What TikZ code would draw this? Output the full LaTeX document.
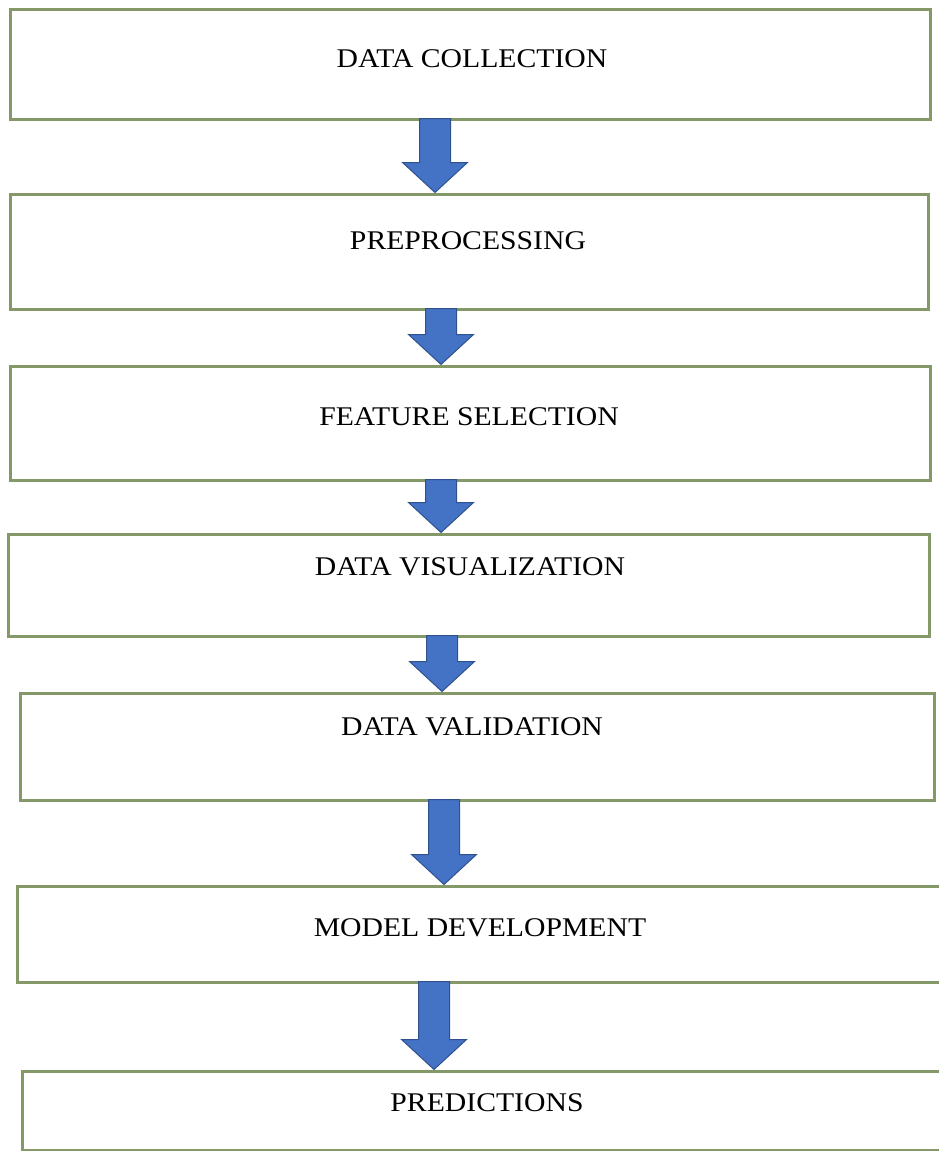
\documentclass[tikz,border=0pt]{standalone}
\usepackage{fontspec}
\setmainfont{Liberation Serif}

\definecolor{boxgreen}{RGB}{132,152,104}
\definecolor{arrowblue}{RGB}{68,114,196}
\definecolor{arrowline}{RGB}{47,82,143}

\begin{document}
\begin{tikzpicture}[x=1pt,y=-1pt,
   stage/.style={draw=boxgreen,line width=3pt,fill=white,inner sep=0pt},
   lbl/.style={font=\fontsize{27}{30}\selectfont,xscale=1.1,inner sep=0pt},
   flow/.style={fill=arrowblue,draw=arrowline,line width=1pt,line join=miter}]

   \useasboundingbox (0,0) rectangle (938,1151);

   % boxes: name / centre / size / text position / text
   \foreach \n/\cx/\cy/\w/\h/\tx/\ty/\txt in {
      1/470/64/920/110/472/59/DATA COLLECTION,
      2/469/251.5/918/115/468/241/PREPROCESSING,
      3/470/423/920/114/469/417/FEATURE SELECTION,
      4/468.5/585/921/102/470/567/DATA VISUALIZATION,
      5/477/746.5/914/107/472/727/DATA VALIDATION,
      6/483.5/934/933/96/480/928/MODEL DEVELOPMENT,
      7/486/1110.5/928/79/487/1103/PREDICTIONS} {
      \node[stage,minimum width=\w,minimum height=\h] (b\n) at (\cx,\cy) {};
      \node[lbl] (t\n) at (\tx,\ty) {\txt};
   }

   % block arrows between the boxes
   \foreach \a/\b/\x in {1/2/435, 2/3/441, 3/4/441, 4/5/442, 5/6/444, 6/7/434} {
      \path (\x,0 |- b\a.south) coordinate (s) (\x,0 |- b\b.north) coordinate (e);
      \draw[flow] ([shift={(-15.5,-2)}]s) -- ([shift={(-15.5,-30)}]e)
         -- ([shift={(-32.5,-30)}]e) -- (e) -- ([shift={(32.5,-30)}]e)
         -- ([shift={(15.5,-30)}]e) -- ([shift={(15.5,-2)}]s) -- cycle;
   }

\end{tikzpicture}
\end{document}
